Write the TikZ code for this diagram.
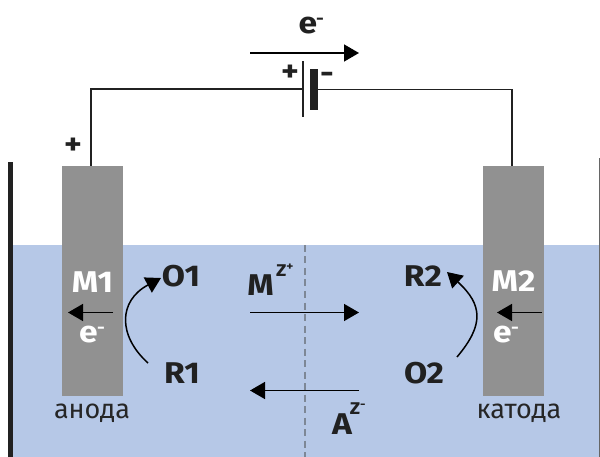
\documentclass[tikz,border=0pt]{standalone}
\usepackage{fontspec}
\setmainfont[BoldFeatures={FakeStretch=1.12}]{Fira Sans}
\usetikzlibrary{arrows.meta}
\definecolor{bath}{RGB}{182,200,231}
\definecolor{dashc}{RGB}{125,135,150}
\tikzset{
	lbl/.style={font=\fontsize{30}{30}\selectfont\bfseries, text=black!87, inner sep=0pt},
	lblw/.style={lbl, text=white},
	sgn/.style={font=\fontsize{17}{17}\selectfont\bfseries, text=black!87, inner sep=0pt},
	sgnw/.style={sgn, text=white},
	nm/.style={font=\fontsize{27}{27}\selectfont, text=black!85, inner sep=0pt},
	electrode/.style={rectangle, fill=black!43, minimum width=61pt, minimum height=230pt, inner sep=0pt},
	plate/.style={rectangle, fill=black!87, inner sep=0pt},
	wire/.style={black!87, line width=1.6pt},
	flow/.style={black, line width=1.5pt, -{Triangle[length=15pt,width=17pt]}},
}
\begin{document}
\begin{tikzpicture}[x=1pt,y=-1pt]
					\useasboundingbox (0,0) rectangle (600,457);
					\fill[bath] (13,245) rectangle (600,457);
					\node[plate, minimum width=5.5pt, minimum height=295pt] (wallL) at (10.7,309.5) {};
					\node[plate, fill=black!60, minimum width=1pt, minimum height=299pt] (wallR) at (599.5,307.5) {};
					\node[electrode] (e1) at (92.5,281) {};
					\node[electrode] (e2) at (513.5,281) {};
					\node[plate, minimum width=1.3pt, minimum height=56pt] (bat1) at (303,89) {};
					\node[plate, minimum width=8pt, minimum height=41pt] (bat2) at (314,89.5) {};
					\coordinate (w1) at (91,166);
					\coordinate (w2) at (512,166);
					\draw[wire] (bat1.west) -| (w1);
					\draw[wire] (bat2.east) -| (w2);
					\coordinate (top1) at (250,53);
					\coordinate (top2) at (359,53);
					\coordinate (mid1) at (250,312.5);
					\coordinate (mid2) at (359,312.5);
					\coordinate (low1) at (359,390.5);
					\coordinate (low2) at (250,390.5);
					\coordinate (in1) at (113,312.5);
					\coordinate (in2) at (68,312.5);
					\coordinate (in3) at (542,312.5);
					\coordinate (in4) at (497,312.5);
					\coordinate (c1) at (148,363);
					\coordinate (c2) at (161,278);
					\coordinate (c3) at (457,357);
					\coordinate (c4) at (447,272);
					\coordinate (dash1) at (305,245);
					\coordinate (dash2) at (305,457);
					\draw[dashc, line width=2pt, dash pattern=on 7pt off 4.5pt] (dash1) -- (dash2);
					\draw[flow] (top1) -- (top2);\draw[flow] (mid1) -- (mid2);\draw[flow] (low1) -- (low2);
					\draw[flow] (in1) -- (in2);\draw[flow] (in3) -- (in4);
					\draw[flow] (c1) .. controls (118,336) and (118,301) .. (c2);
					\draw[flow] (c3) .. controls (484,325) and (483,305) .. (c4);
					\node[lbl] (e0) at (308,26) {e};
					\node[sgn] (e0m) at (320,21) {-};
					\node[lbl] (plus) at (290,73) {+};
					\node[lbl] (minus) at (327,78) {-};
					\node[lbl] (plus1) at (73,146) {+};
					\node[lblw] (m1) at (92.5,282) {M1};
					\node[lblw] (m2) at (513.5,281) {M2};
					\node[lblw] (e1l) at (88.5,335) {e};
					\node[sgnw] (e1m) at (101,330) {-};
					\node[lblw] (e2l) at (502.5,335) {e};
					\node[sgnw] (e2m) at (515,330) {-};
					\node[lbl] (o1) at (181,276) {O1};
					\node[lbl] (r1) at (182,373) {R1};
					\node[lbl] (r2) at (423,276) {R2};
					\node[lbl] (o2) at (424,373) {O2};
					\node[lbl] (mz) at (260.5,285) {M};
					\node[sgn] (mzs) at (285,270) {Z\textsuperscript{+}};
					\node[lbl] (az) at (342,424) {A};
					\node[sgn] (azs) at (358,409) {Z\textsuperscript{-}};
					\node[nm] (an) at (92,413) {анода};
					\node[nm] (ka) at (519,413) {катода};
				\end{tikzpicture}
\end{document}
